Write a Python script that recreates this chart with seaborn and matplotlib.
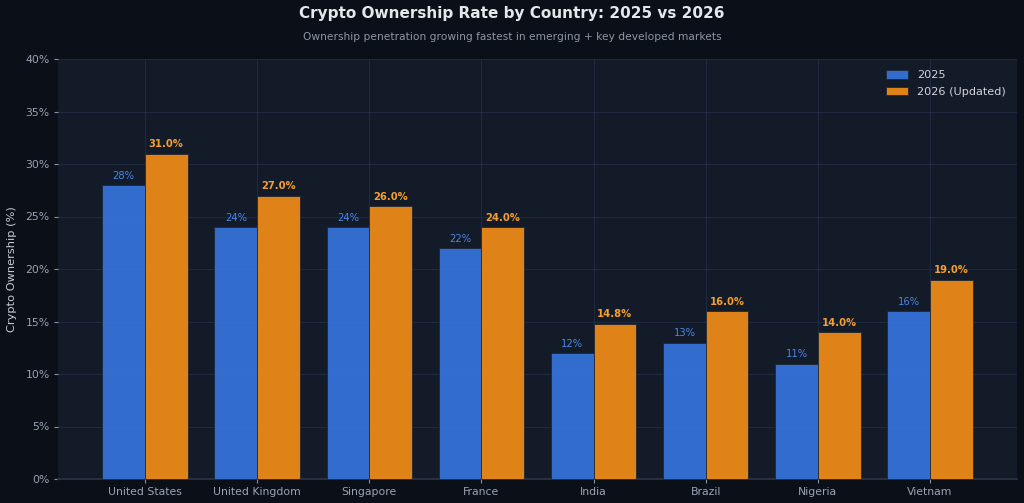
import matplotlib
matplotlib.use('Agg')
import matplotlib.pyplot as plt
import seaborn as sns
import pandas as pd
from matplotlib.ticker import FuncFormatter

countries = ['United States', 'United Kingdom', 'Singapore', 'France',
             'India', 'Brazil', 'Nigeria', 'Vietnam']
own_2025 = [28, 24, 24, 22, 12, 13, 11, 16]
own_2026 = [31.0, 27.0, 26.0, 24.0, 14.8, 16.0, 14.0, 19.0]
series = ['2025', '2026 (Updated)']

df = pd.DataFrame({
    'Country': countries * 2,
    'Ownership': own_2025 + own_2026,
    'Year': [series[0]] * len(countries) + [series[1]] * len(countries),
})

sns.set_theme(style='dark')
plt.rcParams['font.family'] = ['DejaVu Sans']

fig_bg = '#0b0f17'
ax_bg = '#131a28'
blue = '#3575dd'
orange = '#f28c17'

fig = plt.figure(figsize=(10.24, 5.03), dpi=100, facecolor=fig_bg)
ax = fig.add_axes([58 / 1024, 1 - 479 / 503, (1017 - 58) / 1024, (479 - 59) / 503])
ax.set_facecolor(ax_bg)

sns.barplot(data=df, x='Country', y='Ownership', hue='Year', hue_order=series,
            palette=[blue, orange], saturation=1, width=0.76, gap=0, alpha=0.92,
            edgecolor='#1c2433', linewidth=0.6, ax=ax, zorder=3)

# value labels
for cont, fmt, col, wt in zip(ax.containers, ['{:.0f}%', '{:.1f}%'],
                              ['#4a86e8', '#f5a030'], ['normal', 'bold']):
    ax.bar_label(cont, labels=[fmt.format(v) for v in cont.datavalues],
                 padding=3, color=col, fontsize=7.2, fontweight=wt)

ax.set_ylim(0, 40)
ax.set_xlim(-0.775, 7.775)
ax.yaxis.set_major_formatter(FuncFormatter(lambda v, p: f'{v:.0f}%'))
ax.set_yticks(range(0, 41, 5))
ax.grid(True, color='#25304a', linewidth=0.8, alpha=0.7, zorder=0)
ax.set_axisbelow(True)
ax.tick_params(axis='both', colors='#8a93a6', labelsize=7.8, length=3,
               left=True, bottom=True, width=0.8, pad=3)
for lab in ax.get_xticklabels() + ax.get_yticklabels():
    lab.set_color('#9aa3b5')
for s in ['top', 'right', 'left']:
    ax.spines[s].set_visible(False)
ax.spines['bottom'].set_color('#2a3448')
ax.set_xlabel('')
ax.set_ylabel('Crypto Ownership (%)', color='#c8cdd8', fontsize=8.2, labelpad=6)

leg = ax.legend(loc='upper right', frameon=False, fontsize=8.1,
                handlelength=2.0, handleheight=0.8, borderaxespad=0.5,
                labelspacing=0.55, borderpad=0.5)
for t in leg.get_texts():
    t.set_color('#d0d4dc')

fig.text(0.5, 0.974, 'Crypto Ownership Rate by Country: 2025 vs 2026',
         ha='center', va='center', color='#e4e7ec', fontsize=11, fontweight='bold')
fig.text(0.5, 0.926, 'Ownership penetration growing fastest in emerging + key developed markets',
         ha='center', va='center', color='#8d96a8', fontsize=7.7)

fig.savefig('out.png', dpi=100, facecolor=fig_bg)
